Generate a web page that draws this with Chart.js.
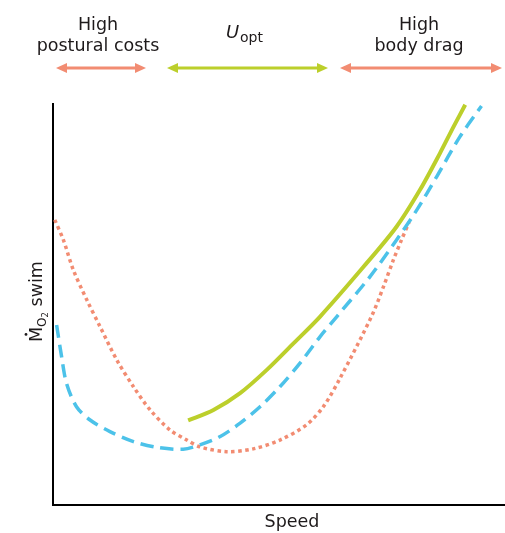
<!DOCTYPE html>
<html>
<head>
<meta charset="utf-8">
<script src="https://cdn.jsdelivr.net/npm/chart.js@4.4.0/dist/chart.umd.min.js"></script>
<style>
  html, body { margin: 0; padding: 0; background: #fff; }
  #wrap { width: 505px; height: 533px; }
</style>
</head>
<body>
<div id="wrap"><canvas id="graphique"></canvas></div>
<script>
// valeurs (echelle 0-100 sur chaque axe)
const vertX = [29.9, 35.5, 41.4, 47.3, 53.2, 59.1, 68.7, 76.0, 81.2, 85.6, 88.6, 91.2];
const vertY = [21.1, 23.7, 27.9, 33.7, 40.3, 47.0, 59.4, 69.4, 78.6, 87.7, 94.3, 99.8];

const bleuX = [0.8, 1.9, 3.0, 5.2, 8.2, 12.6, 17.8, 22.9, 28.8, 32.5, 36.9, 41.4, 45.8, 50.2, 54.6, 59.1, 62.8, 70.1, 76.0, 80.5, 84.9, 90.0, 94.8];
const bleuY = [44.9, 37.0, 30.3, 24.5, 21.2, 18.3, 15.8, 14.4, 13.9, 15.0, 17.0, 20.4, 24.5, 29.5, 35.3, 42.0, 47.0, 56.9, 66.1, 73.6, 81.9, 91.8, 99.5];

const rougeX = [0.4, 2.3, 4.5, 7.5, 10.4, 14.1, 17.8, 21.5, 25.9, 29.6, 32.5, 38.4, 44.3, 50.2, 56.1, 59.8, 63.5, 70.5, 73.1, 75.3, 77.1, 78.8];
const rougeY = [71.1, 66.1, 58.6, 51.1, 44.5, 36.2, 29.5, 23.7, 18.7, 16.2, 14.5, 13.3, 14.0, 16.2, 20.0, 24.5, 31.6, 47.1, 54.4, 61.1, 66.1, 70.6];

const texteX = "Speed";

const couleurVert = "#bccf2b";
const couleurBleu = "#4cc2e9";
const couleurRouge = "#f28c72";
const couleurTexte = "#1e1a1b";
const police = "'DejaVu Sans', sans-serif";

function points(xs, ys) {
  const res = [];
  for (var i = 0; i < xs.length; i++) {
    res.push({ x: xs[i], y: ys[i] });
  }
  return res;
}

function fleche(ctx, x1, x2, y, couleur) {
  ctx.save();
  ctx.strokeStyle = couleur;
  ctx.fillStyle = couleur;
  ctx.lineWidth = 3;
  ctx.beginPath();
  ctx.moveTo(x1 + 6, y);
  ctx.lineTo(x2 - 6, y);
  ctx.stroke();
  ctx.beginPath();
  ctx.moveTo(x1, y);
  ctx.lineTo(x1 + 11, y - 5);
  ctx.lineTo(x1 + 11, y + 5);
  ctx.closePath();
  ctx.fill();
  ctx.beginPath();
  ctx.moveTo(x2, y);
  ctx.lineTo(x2 - 11, y - 5);
  ctx.lineTo(x2 - 11, y + 5);
  ctx.closePath();
  ctx.fill();
  ctx.restore();
}

const annotations = {
  id: "annotations",
  afterDraw(chart) {
    const ctx = chart.ctx;
    ctx.save();
    ctx.fillStyle = couleurTexte;
    ctx.textAlign = "center";
    ctx.textBaseline = "alphabetic";
    ctx.font = "17.5px " + police;
    ctx.fillText("High", 98, 30);
    ctx.fillText("postural costs", 98, 51);
    ctx.fillText("High", 419, 30);
    ctx.fillText("body drag", 419, 51);
    ctx.fillText(texteX, 292, 527);
    // U opt
    ctx.textAlign = "left";
    ctx.font = "italic 18px " + police;
    ctx.fillText("U", 226, 38);
    ctx.font = "14px " + police;
    ctx.fillText("opt", 240, 42);

    fleche(ctx, 56, 146, 68, couleurRouge);
    fleche(ctx, 167, 328, 68, couleurVert);
    fleche(ctx, 340, 502, 68, couleurRouge);

    // titre axe y
    ctx.translate(42, 342);
    ctx.rotate(-Math.PI / 2);
    ctx.textAlign = "left";
    ctx.font = "17.5px " + police;
    ctx.fillText("M", 0, 0);
    let w = ctx.measureText("M").width;
    ctx.beginPath();
    ctx.arc(w / 2, -16, 1.4, 0, Math.PI * 2);
    ctx.fill();
    ctx.font = "12px " + police;
    ctx.fillText("O", w, 4);
    w += ctx.measureText("O").width;
    ctx.font = "8.5px " + police;
    ctx.fillText("2", w, 6);
    w += ctx.measureText("2").width;
    ctx.font = "17.5px " + police;
    ctx.fillText(" swim", w, 0);
    ctx.restore();
  },
};

const configuration = {
  type: "scatter",
  data: {
    datasets: [
      {
        label: "vert",
        data: points(vertX, vertY),
        showLine: true,
        borderColor: couleurVert,
        borderWidth: 4,
        pointRadius: 0,
        tension: 0.3,
      },
      {
        label: "bleu",
        data: points(bleuX, bleuY),
        showLine: true,
        borderColor: couleurBleu,
        borderWidth: 3.5,
        borderDash: [13, 7],
        pointRadius: 0,
        tension: 0.3,
      },
      {
        label: "rouge",
        data: points(rougeX, rougeY),
        showLine: true,
        borderColor: couleurRouge,
        borderWidth: 3.5,
        borderDash: [3.5, 3.5],
        pointRadius: 0,
        tension: 0.3,
      },
    ],
  },
  options: {
    responsive: true,
    maintainAspectRatio: false,
    animation: false,
    clip: false,
    layout: { padding: { left: 53, top: 104, right: 0, bottom: 0 } },
    plugins: { legend: { display: false }, tooltip: { enabled: false } },
    scales: {
      x: {
        type: "linear",
        min: 0,
        max: 100,
        grid: { display: false },
        border: { display: true, color: "#000", width: 2 },
        ticks: { display: false },
        afterFit: function (axe) {
          axe.height = 28;
        },
      },
      y: {
        type: "linear",
        min: 0,
        max: 100,
        grid: { display: false },
        border: { display: true, color: "#000", width: 2 },
        ticks: { display: false },
        afterFit: function (axe) {
          axe.width = 0;
        },
      },
    },
  },
  plugins: [annotations],
};

const graphique = document.getElementById("graphique");
const chart = new Chart(graphique, configuration);
</script>
</body>
</html>
